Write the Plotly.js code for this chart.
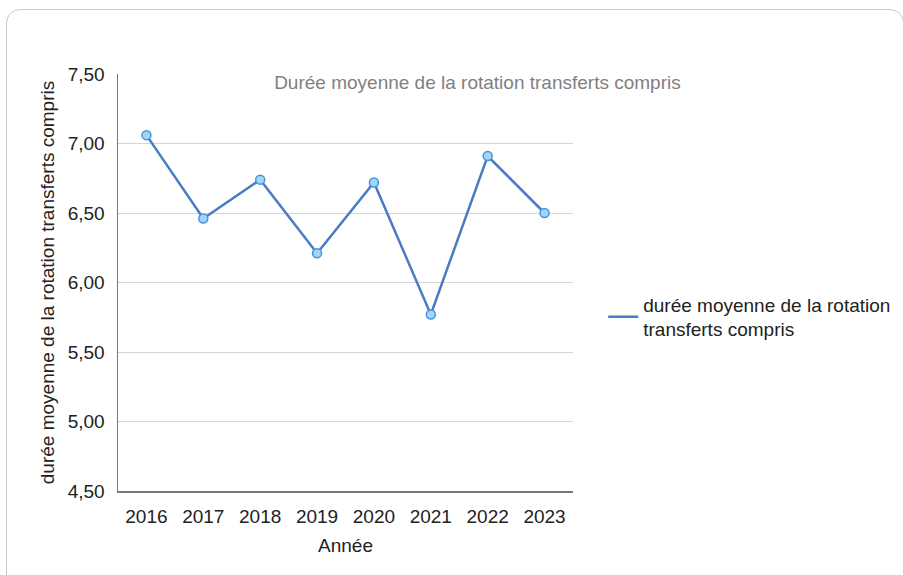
<!DOCTYPE html>
<html>
<head>
<meta charset="utf-8">
<script src="https://cdn.plot.ly/plotly-3.0.1.min.js"></script>
<style>
  html, body { margin: 0; padding: 0; background: #fff; }
  #wrap { position: relative; width: 903px; height: 575px; overflow: hidden; }
  #chart { position: absolute; left: 0; top: 0; width: 903px; height: 575px; }
  #frame { position: absolute; left: 6px; top: 9px; width: 898px; height: 600px;
           border: 1px solid #c8c8c8; border-radius: 14px; pointer-events: none; box-sizing: border-box; }
</style>
</head>
<body>
<div id="wrap">
  <div id="chart"></div>
  <div id="frame"></div>
</div>
<script>
const years = ["2016", "2017", "2018", "2019", "2020", "2021", "2022", "2023"];
const dureeMoyenne = [7.06, 6.46, 6.74, 6.21, 6.72, 5.77, 6.91, 6.50];
const seriesName = "durée moyenne de la rotation<br>transferts compris";
const chartTitle = "Durée moyenne de la rotation transferts compris";
const xTitle = "Année";
const yTitle = "durée moyenne de la rotation transferts compris";

const font = "'Liberation Sans', Arial, Helvetica, sans-serif";
const fs = 19;

const lineTrace = {
  x: years,
  y: dureeMoyenne,
  type: "scatter",
  mode: "lines",
  name: seriesName,
  line: { color: "#4a7cc4", width: 2.5 }
};
const markerTrace = {
  x: years,
  y: dureeMoyenne,
  type: "scatter",
  mode: "markers",
  showlegend: false,
  marker: { size: 9, color: "#a6d4f7", line: { color: "#3f96e0", width: 1.5 } }
};

const layout = {
  width: 903,
  height: 575,
  margin: { l: 118, r: 330, t: 74, b: 84 },
  paper_bgcolor: "rgba(0,0,0,0)",
  plot_bgcolor: "#fff",
  separators: ", ",
  font: { family: font, size: fs, color: "#222" },
  title: {
    text: chartTitle,
    font: { family: font, size: fs, color: "#7f7f7f" },
    xref: "paper", x: 0.79, xanchor: "center",
    yref: "container", y: 1 - 82 / 575, yanchor: "middle"
  },
  xaxis: {
    type: "category",
    range: [-0.5, 7.5],
    showline: true, linecolor: "#777", linewidth: 1.5,
    showgrid: false, ticks: "", zeroline: false,
    tickfont: { family: font, size: fs, color: "#222" },
    ticklabelstandoff: 8,
    title: { text: xTitle, font: { family: font, size: fs, color: "#222" }, standoff: 12 }
  },
  yaxis: {
    range: [4.5, 7.5],
    dtick: 0.5,
    tick0: 4.5,
    tickformat: ".2f",
    showline: true, linecolor: "#777", linewidth: 1.5,
    showgrid: true, gridcolor: "#d6d6d6", gridwidth: 1,
    zeroline: false, ticks: "",
    tickfont: { family: font, size: fs, color: "#222" },
    ticklabelstandoff: 8,
    title: { text: yTitle, font: { family: font, size: fs, color: "#222" }, standoff: 8 }
  },
  showlegend: true,
  legend: {
    xref: "container", x: 0.668, xanchor: "left",
    yref: "container", y: 1 - 317 / 575, yanchor: "middle",
    font: { family: font, size: fs, color: "#222" },
    bgcolor: "rgba(0,0,0,0)",
    itemwidth: 30
  }
};

Plotly.newPlot("chart", [lineTrace, markerTrace], layout, { displayModeBar: false, staticPlot: true });
</script>
</body>
</html>
